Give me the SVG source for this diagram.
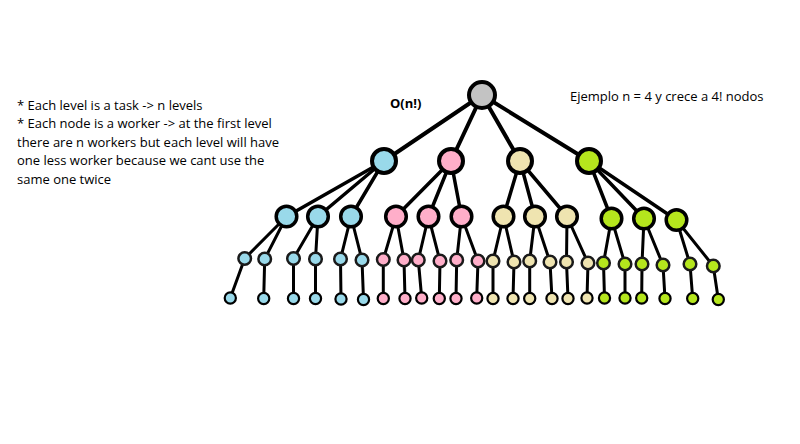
<svg xmlns="http://www.w3.org/2000/svg" width="800" height="444" viewBox="0 0 800 444">
<style>
.t{font-family:"Segoe UI","Open Sans","Liberation Sans",sans-serif;font-size:13px;fill:#000}
.b{font-weight:bold}
.e line{stroke:#000;stroke-linecap:round}
.e1 line{stroke-width:4}
.e2 line{stroke-width:3.5}
.e3 line{stroke-width:3}
circle{stroke:#000}
.r0{stroke-width:4}
.r1{stroke-width:4}
.r2{stroke-width:3.5}
.r3{stroke-width:2.5;stroke:#1a1a1a}
.r4{stroke-width:2.2}
.g{fill:#c3c3c3}.bl{fill:#99d9ea}.pk{fill:#ffaec9}.tn{fill:#efe4b0}.gr{fill:#b5e61d}
</style>
<rect width="800" height="444" fill="#fff"/>
<g id="notes">
<text class="t" x="17" y="109.5">* Each level is a task -&gt; n levels</text>
<text class="t" x="17" y="128">* Each node is a worker -&gt; at the first level</text>
<text class="t" x="17" y="146.5">there are n workers but each level will have</text>
<text class="t" x="17" y="165">one less worker because we cant use the</text>
<text class="t" x="17" y="183.5">same one twice</text>
<text class="t b" x="390" y="107.5">O(n!)</text>
<text class="t" x="570" y="101">Ejemplo n = 4 y crece a 4! nodos</text>
</g>
<g id="connectors" class="e">
<g class="e1">
<line x1="482" y1="95" x2="384" y2="161"/>
<line x1="482" y1="95" x2="451" y2="161"/>
<line x1="482" y1="95" x2="520" y2="161"/>
<line x1="482" y1="95" x2="589" y2="161"/>
</g>
<g class="e2">
<line x1="384" y1="161" x2="286.5" y2="216.5"/>
<line x1="384" y1="161" x2="318" y2="216.5"/>
<line x1="384" y1="161" x2="351" y2="216.5"/>
<line x1="451" y1="161" x2="396" y2="216.5"/>
<line x1="451" y1="161" x2="428.5" y2="216.5"/>
<line x1="451" y1="161" x2="461.5" y2="216.5"/>
<line x1="520" y1="161" x2="503.5" y2="216.5"/>
<line x1="520" y1="161" x2="535" y2="216.5"/>
<line x1="520" y1="161" x2="567" y2="216.5"/>
<line x1="589" y1="161" x2="611.5" y2="218.5"/>
<line x1="589" y1="161" x2="644" y2="218.5"/>
<line x1="589" y1="161" x2="676.5" y2="220"/>
</g>
<g class="e3">
<line x1="286.5" y1="216.5" x2="244.7" y2="258.5"/>
<line x1="286.5" y1="216.5" x2="264.7" y2="259"/>
<line x1="318" y1="216.5" x2="293.5" y2="258.5"/>
<line x1="318" y1="216.5" x2="315.5" y2="259"/>
<line x1="351" y1="216.5" x2="340.5" y2="259"/>
<line x1="351" y1="216.5" x2="362" y2="260"/>
<line x1="396" y1="216.5" x2="383.3" y2="259.5"/>
<line x1="396" y1="216.5" x2="404" y2="260"/>
<line x1="428.5" y1="216.5" x2="418.3" y2="260"/>
<line x1="428.5" y1="216.5" x2="440" y2="261"/>
<line x1="461.5" y1="216.5" x2="456.7" y2="260"/>
<line x1="461.5" y1="216.5" x2="478" y2="261"/>
<line x1="503.5" y1="216.5" x2="493" y2="261"/>
<line x1="503.5" y1="216.5" x2="514" y2="262"/>
<line x1="535" y1="216.5" x2="529.7" y2="261"/>
<line x1="535" y1="216.5" x2="550" y2="262"/>
<line x1="567" y1="216.5" x2="566.5" y2="262"/>
<line x1="567" y1="216.5" x2="588" y2="263"/>
<line x1="611.5" y1="218.5" x2="603.5" y2="263"/>
<line x1="611.5" y1="218.5" x2="625" y2="264"/>
<line x1="644" y1="218.5" x2="642" y2="264"/>
<line x1="644" y1="218.5" x2="663" y2="265"/>
<line x1="676.5" y1="220" x2="690" y2="264"/>
<line x1="676.5" y1="220" x2="713.3" y2="266"/>
<line x1="244.7" y1="258.5" x2="230.3" y2="298"/>
<line x1="264.7" y1="259" x2="263.7" y2="298.5"/>
<line x1="293.5" y1="258.5" x2="293.5" y2="298.5"/>
<line x1="315.5" y1="259" x2="315.5" y2="298.5"/>
<line x1="340.5" y1="259" x2="341" y2="299"/>
<line x1="362" y1="260" x2="363.5" y2="299.5"/>
<line x1="383.3" y1="259.5" x2="383.3" y2="298.5"/>
<line x1="404" y1="260" x2="405" y2="298.5"/>
<line x1="418.3" y1="260" x2="421.7" y2="298"/>
<line x1="440" y1="261" x2="439.3" y2="298.5"/>
<line x1="456.7" y1="260" x2="456" y2="298.5"/>
<line x1="478" y1="261" x2="476.7" y2="298"/>
<line x1="493" y1="261" x2="493" y2="298.5"/>
<line x1="514" y1="262" x2="513" y2="298.5"/>
<line x1="529.7" y1="261" x2="529.7" y2="298.5"/>
<line x1="550" y1="262" x2="552" y2="298.5"/>
<line x1="566.5" y1="262" x2="568" y2="298.5"/>
<line x1="588" y1="263" x2="587" y2="298"/>
<line x1="603.5" y1="263" x2="604.5" y2="298"/>
<line x1="625" y1="264" x2="625" y2="298"/>
<line x1="642" y1="264" x2="641.7" y2="298"/>
<line x1="663" y1="265" x2="665" y2="298.5"/>
<line x1="690" y1="264" x2="692.7" y2="298.5"/>
<line x1="713.3" y1="266" x2="718.3" y2="299.5"/>
</g>
</g>
<g id="root"><circle class="r0 g" cx="482" cy="95" r="13"/></g>
<g id="n1a"><circle class="r1 bl" cx="384" cy="161" r="12"/></g>
<g id="n1b"><circle class="r1 pk" cx="451" cy="161" r="12"/></g>
<g id="n1c"><circle class="r1 tn" cx="520" cy="161" r="12"/></g>
<g id="n1d"><circle class="r1 gr" cx="589" cy="161" r="12"/></g>
<g id="n2a1"><circle class="r2 bl" cx="286.5" cy="216.5" r="10.3"/></g>
<g id="n2a2"><circle class="r2 bl" cx="318" cy="216.5" r="10.3"/></g>
<g id="n2a3"><circle class="r2 bl" cx="351" cy="216.5" r="10.3"/></g>
<g id="n2b1"><circle class="r2 pk" cx="396" cy="216.5" r="10.3"/></g>
<g id="n2b2"><circle class="r2 pk" cx="428.5" cy="216.5" r="10.3"/></g>
<g id="n2b3"><circle class="r2 pk" cx="461.5" cy="216.5" r="10.3"/></g>
<g id="n2c1"><circle class="r2 tn" cx="503.5" cy="216.5" r="10.3"/></g>
<g id="n2c2"><circle class="r2 tn" cx="535" cy="216.5" r="10.3"/></g>
<g id="n2c3"><circle class="r2 tn" cx="567" cy="216.5" r="10.3"/></g>
<g id="n2d1"><circle class="r2 gr" cx="611.5" cy="218.5" r="10.3"/></g>
<g id="n2d2"><circle class="r2 gr" cx="644" cy="218.5" r="10.3"/></g>
<g id="n2d3"><circle class="r2 gr" cx="676.5" cy="220" r="10.3"/></g>
<g id="n3-1"><circle class="r3 bl" cx="244.7" cy="258.5" r="6.3"/></g>
<g id="n3-2"><circle class="r3 bl" cx="264.7" cy="259" r="6.3"/></g>
<g id="n3-3"><circle class="r3 bl" cx="293.5" cy="258.5" r="6.3"/></g>
<g id="n3-4"><circle class="r3 bl" cx="315.5" cy="259" r="6.3"/></g>
<g id="n3-5"><circle class="r3 bl" cx="340.5" cy="259" r="6.3"/></g>
<g id="n3-6"><circle class="r3 bl" cx="362" cy="260" r="6.3"/></g>
<g id="n3-7"><circle class="r3 pk" cx="383.3" cy="259.5" r="6.3"/></g>
<g id="n3-8"><circle class="r3 pk" cx="404" cy="260" r="6.3"/></g>
<g id="n3-9"><circle class="r3 pk" cx="418.3" cy="260" r="6.3"/></g>
<g id="n3-10"><circle class="r3 pk" cx="440" cy="261" r="6.3"/></g>
<g id="n3-11"><circle class="r3 pk" cx="456.7" cy="260" r="6.3"/></g>
<g id="n3-12"><circle class="r3 pk" cx="478" cy="261" r="6.3"/></g>
<g id="n3-13"><circle class="r3 tn" cx="493" cy="261" r="6.3"/></g>
<g id="n3-14"><circle class="r3 tn" cx="514" cy="262" r="6.3"/></g>
<g id="n3-15"><circle class="r3 tn" cx="529.7" cy="261" r="6.3"/></g>
<g id="n3-16"><circle class="r3 tn" cx="550" cy="262" r="6.3"/></g>
<g id="n3-17"><circle class="r3 tn" cx="566.5" cy="262" r="6.3"/></g>
<g id="n3-18"><circle class="r3 tn" cx="588" cy="263" r="6.3"/></g>
<g id="n3-19"><circle class="r3 gr" cx="603.5" cy="263" r="6.3"/></g>
<g id="n3-20"><circle class="r3 gr" cx="625" cy="264" r="6.3"/></g>
<g id="n3-21"><circle class="r3 gr" cx="642" cy="264" r="6.3"/></g>
<g id="n3-22"><circle class="r3 gr" cx="663" cy="265" r="6.3"/></g>
<g id="n3-23"><circle class="r3 gr" cx="690" cy="264" r="6.3"/></g>
<g id="n3-24"><circle class="r3 gr" cx="713.3" cy="266" r="6.3"/></g>
<g id="n4-1"><circle class="r4 bl" cx="230.3" cy="298" r="5.6"/></g>
<g id="n4-2"><circle class="r4 bl" cx="263.7" cy="298.5" r="5.6"/></g>
<g id="n4-3"><circle class="r4 bl" cx="293.5" cy="298.5" r="5.6"/></g>
<g id="n4-4"><circle class="r4 bl" cx="315.5" cy="298.5" r="5.6"/></g>
<g id="n4-5"><circle class="r4 bl" cx="341" cy="299" r="5.6"/></g>
<g id="n4-6"><circle class="r4 bl" cx="363.5" cy="299.5" r="5.6"/></g>
<g id="n4-7"><circle class="r4 pk" cx="383.3" cy="298.5" r="5.6"/></g>
<g id="n4-8"><circle class="r4 pk" cx="405" cy="298.5" r="5.6"/></g>
<g id="n4-9"><circle class="r4 pk" cx="421.7" cy="298" r="5.6"/></g>
<g id="n4-10"><circle class="r4 pk" cx="439.3" cy="298.5" r="5.6"/></g>
<g id="n4-11"><circle class="r4 pk" cx="456" cy="298.5" r="5.6"/></g>
<g id="n4-12"><circle class="r4 pk" cx="476.7" cy="298" r="5.6"/></g>
<g id="n4-13"><circle class="r4 tn" cx="493" cy="298.5" r="5.6"/></g>
<g id="n4-14"><circle class="r4 tn" cx="513" cy="298.5" r="5.6"/></g>
<g id="n4-15"><circle class="r4 tn" cx="529.7" cy="298.5" r="5.6"/></g>
<g id="n4-16"><circle class="r4 tn" cx="552" cy="298.5" r="5.6"/></g>
<g id="n4-17"><circle class="r4 tn" cx="568" cy="298.5" r="5.6"/></g>
<g id="n4-18"><circle class="r4 tn" cx="587" cy="298" r="5.6"/></g>
<g id="n4-19"><circle class="r4 gr" cx="604.5" cy="298" r="5.6"/></g>
<g id="n4-20"><circle class="r4 gr" cx="625" cy="298" r="5.6"/></g>
<g id="n4-21"><circle class="r4 gr" cx="641.7" cy="298" r="5.6"/></g>
<g id="n4-22"><circle class="r4 gr" cx="665" cy="298.5" r="5.6"/></g>
<g id="n4-23"><circle class="r4 gr" cx="692.7" cy="298.5" r="5.6"/></g>
<g id="n4-24"><circle class="r4 gr" cx="718.3" cy="299.5" r="5.6"/></g>
</svg>
